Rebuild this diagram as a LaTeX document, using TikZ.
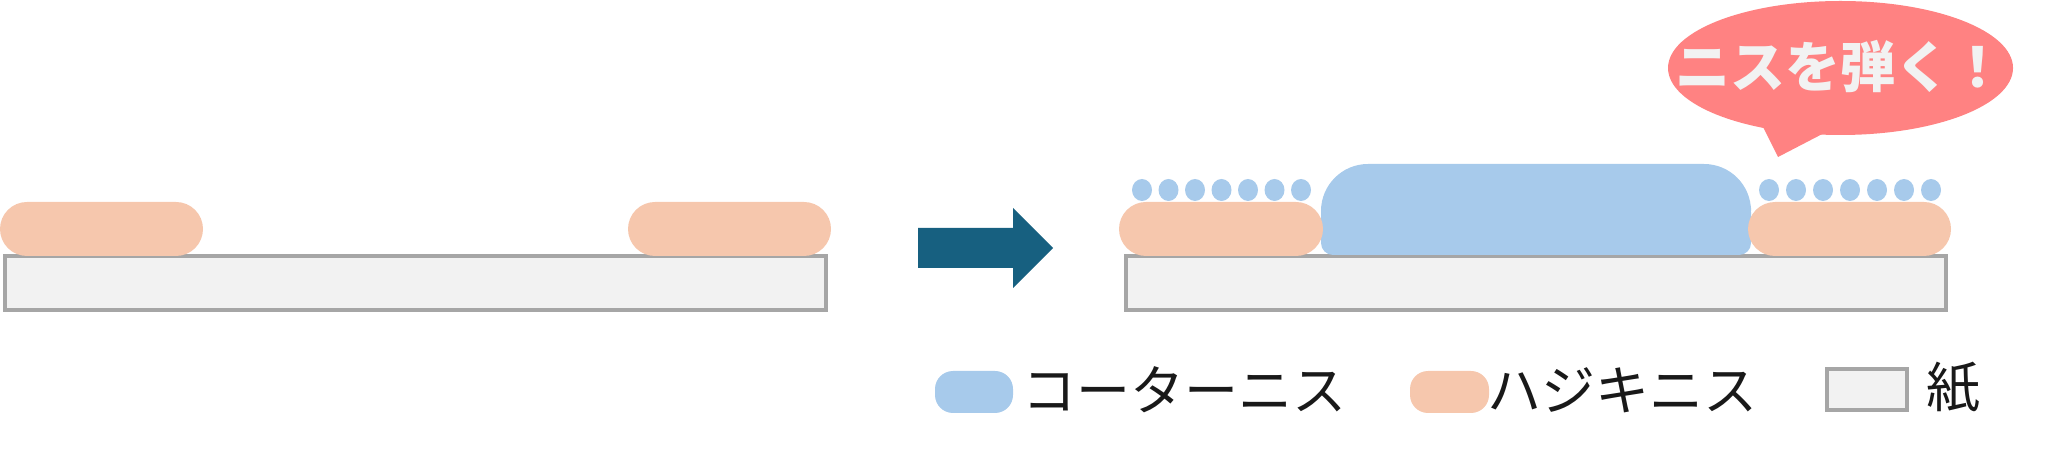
\documentclass[tikz,border=0pt]{standalone}
\usepackage{fontspec}
\newfontfamily\jp{Noto Sans CJK JP}
\definecolor{peach}{HTML}{F6C7AD}
\definecolor{coat}{HTML}{A7CAEB}
\definecolor{paperfill}{HTML}{F2F2F2}
\definecolor{paperline}{HTML}{A6A6A6}
\definecolor{arrowblue}{HTML}{176080}
\definecolor{calloutred}{HTML}{FF8282}
\begin{document}
\begin{tikzpicture}[x=0.5pt,y=-0.5pt,
  paper/.style={fill=paperfill,draw=paperline,line width=2pt},
  hajiki/.style={fill=peach,rounded corners=13.5pt},
  coatdot/.style={fill=coat},
  legendtext/.style={font=\jp\fontsize{27}{30}\selectfont,text=black!90,inner sep=0pt,anchor=west},
  callouttext/.style={font=\jp\bfseries\fontsize{27.5}{30}\selectfont,text=paperfill,inner sep=0pt}]
\useasboundingbox (0,0) rectangle (2048,458);
% left panel
\draw[paper] (5,256) rectangle (826,310);
\fill[hajiki] (0,202) rectangle (203,256);
\fill[hajiki] (628,202) rectangle (831,256);
% arrow
\fill[arrowblue] (918,228) -- (1013,228) -- (1013,208) -- (1053,248) -- (1013,288) -- (1013,268) -- (918,268) -- cycle;
% right panel
\draw[paper] (1125.5,256) rectangle (1946,310);
\fill[coat,rounded corners=23.5pt] (1321,164) rectangle (1751,255);
\fill[coat,rounded corners=6pt] (1321,200) rectangle (1751,255);
\fill[hajiki] (1119,202) rectangle (1323,256);
\fill[hajiki] (1748,202) rectangle (1951,256);
\foreach \x in {1142,1168.5,1195,1221.5,1248,1274.5,1301}
  \fill[coatdot] (\x,190) ellipse [x radius=5pt,y radius=5.5pt];
\foreach \x in {1769,1796,1823,1850,1877,1904,1931}
  \fill[coatdot] (\x,190) ellipse [x radius=5pt,y radius=5.5pt];
% callout
\fill[calloutred] (1840.5,68) ellipse [x radius=86.25pt,y radius=33.5pt];
\fill[calloutred] (1762,125) -- (1778,157) -- (1830,130) -- cycle;
\node[callouttext] (msg) at (1840,67) {ニスを弾く！};
% legend
\fill[coat,rounded corners=9pt] (935,371) rectangle (1013,413);
\node[legendtext] (lc) at (1022,390) {コーターニス};
\fill[peach,rounded corners=9pt] (1410,371) rectangle (1489,413);
\node[legendtext] (lh) at (1487,390) {ハジキニス};
\draw[paper] (1827,369) rectangle (1907,410);
\node[legendtext,anchor=center] (lp) at (1953,388) {紙};
\end{tikzpicture}
\end{document}
